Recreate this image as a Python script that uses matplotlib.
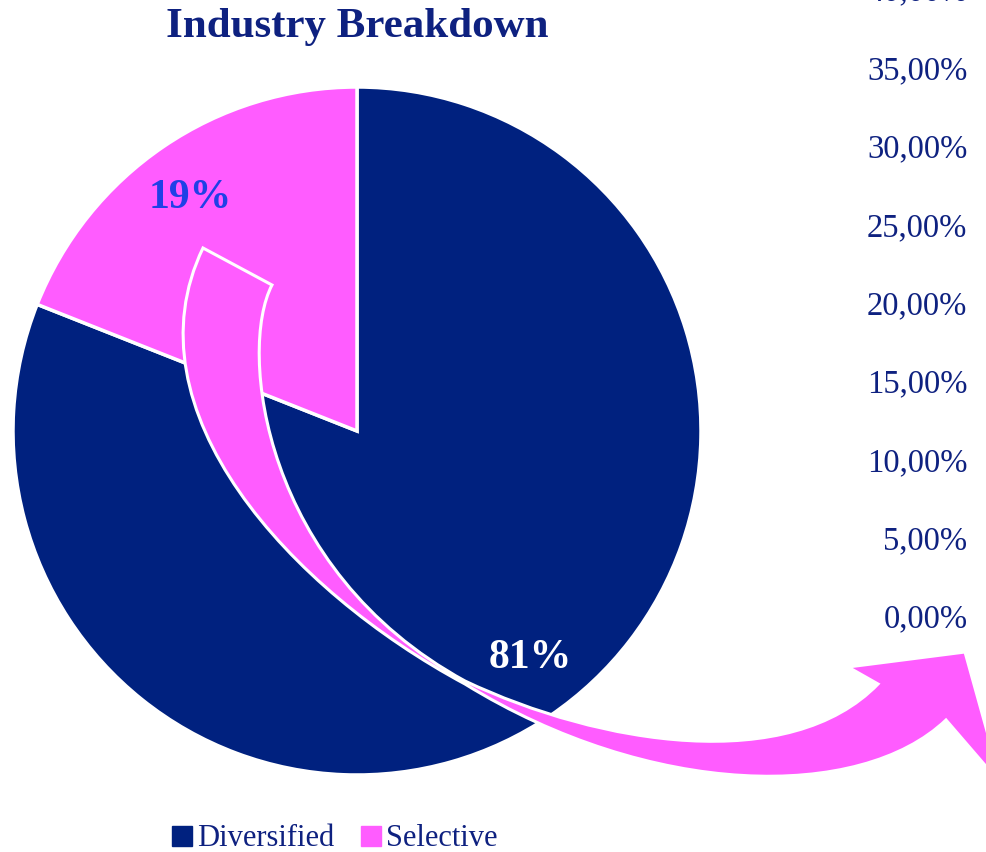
import numpy as np
import matplotlib
matplotlib.use("Agg")
import matplotlib.pyplot as plt
from matplotlib.path import Path
from matplotlib.patches import PathPatch
from matplotlib.lines import Line2D

# ---- data ----
categories = ["Diversified", "Selective"]
shares = [81, 19]
colors = ["#00217F", "#FF5CFF"]
tick_values = [0, 5, 10, 15, 20, 25, 30, 35, 40]
tick_labels = ["0,00%", "5,00%", "10,00%", "15,00%", "20,00%", "25,00%", "30,00%", "35,00%", "40,00%"]

W, H = 987, 852
NAVY = "#0E2180"
SERIF = ["Liberation Serif", "DejaVu Serif"]

fig = plt.figure(figsize=(W / 100, H / 100), dpi=100)
ax = fig.add_axes([0, 0, 1, 1])

cx, cy, R = 357, H - 431, 344
wedges, texts, autotexts = ax.pie(
    shares, colors=colors, startangle=90, counterclock=False,
    center=(cx, cy), radius=R, autopct="%1.0f%%", pctdistance=0.83,
    wedgeprops=dict(edgecolor="white", linewidth=2.5), frame=True)
ax.set_xlim(0, W)
ax.set_ylim(0, H)
ax.set_aspect("equal")
ax.axis("off")

label_colors = ["white", "#1F40E6"]
label_pos = [(530, 658), (190, 198)]   # pixel positions of the percentage labels
for t, c, (px, py) in zip(autotexts, label_colors, label_pos):
    t.set_color(c)
    t.set_fontfamily(SERIF)
    t.set_fontweight("bold")
    t.set_fontsize(30)
    t.set_position((px, H - py))
    t.set_zorder(6)

# ---- decorative curved arrow (figure pixel coords, y down) ----
M, C, L = Path.MOVETO, Path.CURVE4, Path.LINETO
segs = [
    (M, [(203, 248)]),
    (L, [(272, 285)]),
    (C, [(238, 350), (262, 570), (465, 681)]),
    (C, [(600, 745), (790, 775), (878, 684)]),
    (L, [(848, 667)]),
    (L, [(965, 652)]),
    (L, [(1002, 785)]),
    (L, [(946, 720)]),
    (C, [(860, 802), (650, 798), (465, 684)]),
    (C, [(290, 590), (125, 410), (203, 248)]),
]
verts, codes = [], []
for code, pts in segs:
    for p in pts:
        verts.append((p[0], H - p[1]))
        codes.append(code)
verts.append(verts[0])
codes.append(Path.CLOSEPOLY)
arrow = PathPatch(Path(verts, codes), facecolor="#FF5CFF", edgecolor="white", linewidth=2.2,
                  joinstyle="miter", zorder=3)
ax.add_patch(arrow)

# ---- title ----
fig.text(357 / W, 1 - 27 / H, "Industry Breakdown", ha="center", va="center",
         fontsize=31, fontweight="bold", color=NAVY, family=SERIF)

# ---- partial percentage axis at right ----
y0_px, y40_px = 616, -11
ax2 = fig.add_axes([973 / W, (H - y0_px) / H, 0.004, (y0_px - y40_px) / H])
ax2.set_ylim(0, 40)
ax2.set_yticks(tick_values)
ax2.set_yticklabels(tick_labels)
ax2.set_xticks([])
for s in ax2.spines.values():
    s.set_visible(False)
ax2.patch.set_visible(False)
ax2.tick_params(axis="y", length=0, pad=4, labelcolor=NAVY, labelsize=23.5)
for lbl in ax2.get_yticklabels():
    lbl.set_fontfamily(SERIF)

# ---- legend ----
handles = [Line2D([0], [0], marker="s", linestyle="none", markersize=14,
                  markerfacecolor=c, markeredgecolor=c) for c in colors]
leg = fig.legend(handles, categories, loc="center", bbox_to_anchor=(335 / W, 1 - 839 / H),
                 ncol=2, frameon=False, handlelength=0.6, handletextpad=0.2,
                 columnspacing=0.9, prop={"family": SERIF, "size": 22})
for t in leg.get_texts():
    t.set_color(NAVY)

fig.savefig("out.png", dpi=100)
